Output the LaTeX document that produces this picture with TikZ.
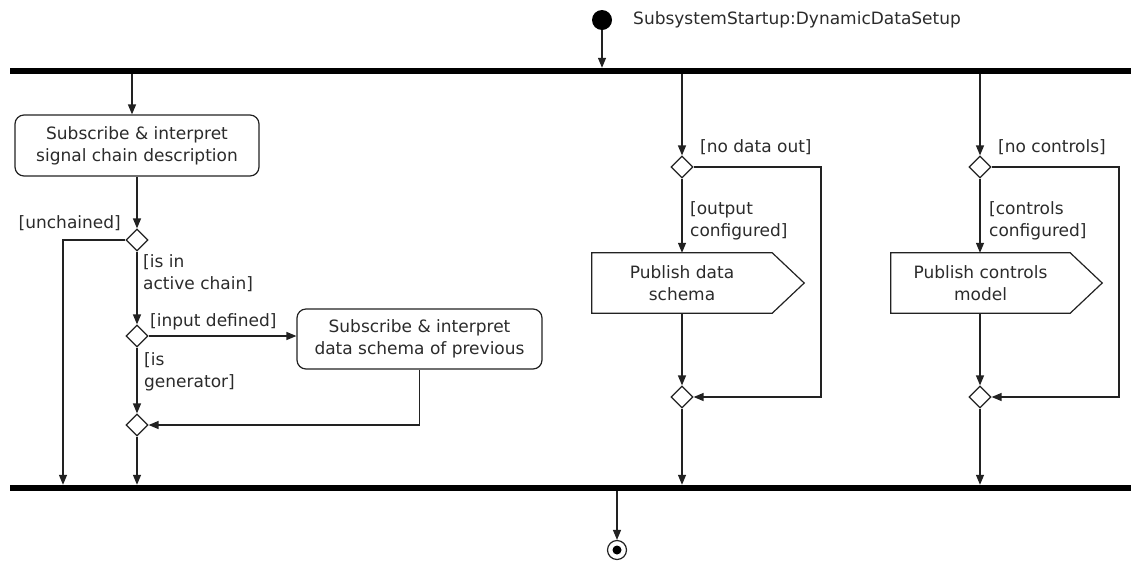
\documentclass[tikz,border=0pt]{standalone}
\usepackage{fontspec}
\setmainfont{DejaVu Sans}
\usetikzlibrary{arrows.meta,shapes.geometric}
\definecolor{txt}{HTML}{2B2B2B}
\definecolor{ln}{HTML}{222222}
\tikzset{
  every node/.style={font=\fontsize{17}{22}\selectfont, text=txt},
  arr/.style={draw=ln, line width=1.3pt, -{Triangle[length=10pt,width=8pt]}},
  ln/.style={draw=ln, line width=1.3pt},
  action/.style={draw=ln, line width=1.2pt, rounded corners=9pt, align=center, inner sep=0pt},
  decision/.style={diamond, draw=ln, line width=1.2pt, fill=white, minimum width=22pt, minimum height=22pt, inner sep=0pt},
  bar/.style={fill=black, inner sep=0pt, minimum height=6pt},
  guard/.style={inner sep=0pt, align=left},
  sendbox/.style={inner sep=0pt, align=center, minimum height=60pt},
}
\begin{document}
\begin{tikzpicture}[x=1pt,y=-1pt]
\useasboundingbox (0,0) rectangle (1131,563);
% bars
\node[bar, minimum width=1121pt] (topbar) at (570.5,71) {};
\node[bar, minimum width=1121pt] (botbar) at (570.5,488) {};
% initial
\node[circle, fill=black, minimum size=20pt, inner sep=0pt] (init) at (602,20) {};
\node[anchor=west, inner sep=0pt] (title) at (633,20) {SubsystemStartup:DynamicDataSetup};
\draw[arr] (init) -- (init |- topbar.north);
% final
\node[circle, draw=ln, line width=1.2pt, minimum size=19pt, inner sep=0pt] (final) at (617,550) {};
\fill[black] (final.center) circle (4.5pt);
\draw[arr] (final |- botbar.south) -- (final.north);

% left column
\node[action, minimum width=244pt, minimum height=61pt] (box1) at (137,145.5) {Subscribe \& interpret\\signal chain description};
\draw[arr] ([xshift=-5pt]box1.north |- topbar.south) -- ([xshift=-5pt]box1.north);
\node[decision] (d1) at (137,240) {};
\draw[arr] (box1.south) -- (d1.north);
\node[guard, anchor=east] (gunch) at (121,223) {[unchained]};
\coordinate (uc) at (63,240);
\draw[arr] (d1.west) -- (uc) -- (uc |- botbar.north);
\node[guard, anchor=west] (gact) at (143,273) {[is in\\active chain]};
\node[decision] (d2) at (137,336) {};
\draw[arr] (d1.south) -- (d2.north);
\node[action, minimum width=245pt, minimum height=60pt] (box2) at (419.5,339) {Subscribe \& interpret\\data schema of previous};
\draw[arr] (d2.east) -- (d2.east -| box2.west);
\node[guard, anchor=west] (ginp) at (150,322) {[input defined]};
\node[guard, anchor=west] (ggen) at (144,372) {[is\\generator]};
\node[decision] (d3) at (137,425) {};
\draw[arr] (d2.south) -- (d3.north);
\draw[arr] (box2.south) |- (d3.east);
\draw[arr] (d3.south) -- (d3 |- botbar.north);

% middle column
\node[decision] (d4) at (682,167) {};
\draw[arr] (d4 |- topbar.south) -- (d4.north);
\node[guard, anchor=west] (gnod) at (700,147) {[no data out]};
\node[guard, anchor=west] (gout) at (690,221) {[output\\configured]};
\node[sendbox, minimum width=180pt] (pub1) at (682,283) {Publish data\\schema};
\draw[ln, line width=1.2pt] (pub1.north west) -- (pub1.north east) -- ([xshift=32pt]pub1.east) -- (pub1.south east) -- (pub1.south west) -- cycle;
\draw[arr] (d4.south) -- (pub1.north);
\node[decision] (d5) at (682,397) {};
\draw[arr] (pub1.south) -- (d5.north);
\coordinate (c4) at (821,167);
\draw[arr] (d4.east) -- (c4) |- (d5.east);
\draw[arr] (d5.south) -- (d5 |- botbar.north);

% right column
\node[decision] (d6) at (980,167) {};
\draw[arr] (d6 |- topbar.south) -- (d6.north);
\node[guard, anchor=west] (gnoc) at (998,147) {[no controls]};
\node[guard, anchor=west] (gctl) at (989,221) {[controls\\configured]};
\node[sendbox, minimum width=179pt] (pub2) at (980.5,283) {Publish controls\\model};
\draw[ln, line width=1.2pt] (pub2.north west) -- (pub2.north east) -- ([xshift=32pt]pub2.east) -- (pub2.south east) -- (pub2.south west) -- cycle;
\draw[arr] (d6.south) -- (d6 |- pub2.north);
\node[decision] (d7) at (980,397) {};
\draw[arr] (d6 |- pub2.south) -- (d7.north);
\coordinate (c6) at (1119,167);
\draw[arr] (d6.east) -- (c6) |- (d7.east);
\draw[arr] (d7.south) -- (d7 |- botbar.north);
\end{tikzpicture}
\end{document}
